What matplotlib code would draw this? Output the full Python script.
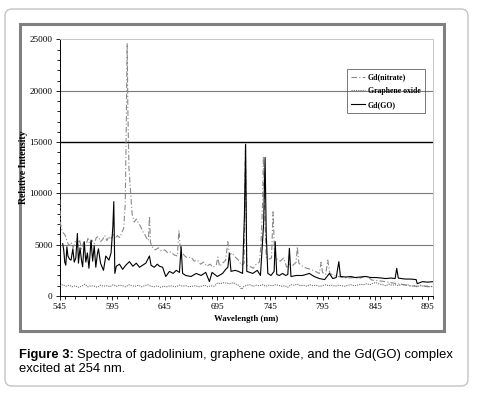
import matplotlib
matplotlib.use("Agg")
import matplotlib.pyplot as plt
import matplotlib.patches as mpatches
from matplotlib.ticker import MultipleLocator

# ---- data ----
nitrate_nm = [545, 546, 547, 548, 550, 552, 554, 556, 558, 560, 562, 564, 566, 568, 570, 572,
              574, 576, 578, 580, 582, 584, 586, 588, 590, 592, 594, 596, 598, 600, 602, 604,
              606, 607.5, 608.5, 609.3, 610, 611, 612.5, 614, 616, 618, 620, 622, 624, 626, 628,
              629.5, 630.5, 631.5, 633, 636, 639, 642, 645, 648, 651, 654, 657, 658.5, 659.5, 661,
              664, 667, 670, 673, 676, 679, 682, 685, 688, 691, 694, 695.5, 697, 700, 703, 705,
              706.5, 709, 712, 715, 718, 720.5, 721.7, 723, 726, 729, 732, 735, 736.5, 738, 738.8,
              739.8, 741.5, 744, 746.5, 748, 749.5, 752, 755, 758, 761, 764, 767, 770, 771, 772.5,
              776, 780, 784, 788, 792, 793.6, 795, 798, 800, 802, 806, 810, 815, 820, 825, 830,
              836, 842, 848, 854, 860, 866, 872, 878, 884, 890, 895, 900]
nitrate_int = [10500, 7000, 6500, 6200, 6000, 5400, 4900, 5200, 4700, 5300, 4800, 5500, 4600, 5200,
               4900, 5600, 5000, 5400, 5100, 5700, 5800, 5300, 5500, 5900, 5400, 5800, 5500, 6000,
               5600, 5900, 5700, 6100, 6600, 9000, 17000, 24600, 18000, 12500, 10200, 8000, 7200,
               7500, 7100, 6800, 6300, 6000, 5600, 5400, 7800, 5200, 4800, 4500, 4700, 4400, 4500,
               4200, 4300, 4000, 3900, 6400, 5000, 4300, 3900, 3700, 3800, 3400, 3500, 3100, 3300,
               2900, 3100, 2800, 3000, 3800, 2900, 3200, 3500, 5300, 4000, 4200, 3800, 3500, 3000,
               3200, 14700, 3000, 2900, 2700, 3100, 3300, 5000, 9000, 13600, 9000, 3800, 3600, 3700,
               8200, 3900, 3600, 3400, 3700, 2800, 3100, 3000, 3300, 4800, 3200, 2900, 2700, 2600,
               2400, 2200, 3300, 2300, 2100, 3500, 2200, 2000, 1900, 1800, 1750, 1800, 1700, 2000,
               1550, 1500, 1400, 1300, 1200, 1100, 1000, 950, 1000, 900, 950]

oxide_nm = [545, 548, 551, 554, 557, 560, 563, 566, 569, 572, 575, 578, 581, 584, 587, 590, 593,
            596, 599, 602, 605, 608, 611, 614, 617, 620, 623, 626, 629, 632, 635, 638, 641, 644,
            647, 650, 653, 656, 659, 662, 665, 668, 671, 674, 677, 680, 683, 686, 689, 692, 695,
            698, 701, 704, 707, 710, 713, 716, 718, 720, 723, 726, 729, 732, 735, 738, 741, 744,
            747, 750, 753, 756, 759, 762, 765, 768, 771, 774, 777, 780, 783, 786, 789, 792, 795,
            798, 801, 804, 807, 810, 813, 816, 819, 822, 825, 828, 831, 834, 837, 840, 843, 846,
            849, 852, 855, 858, 861, 864, 867, 870, 873, 876, 879, 882, 885, 888, 891, 894, 897, 900]
oxide_int = [1000, 1100, 950, 1050, 900, 1000, 850, 950, 1150, 900, 1000, 950, 850, 1050, 950, 1000,
             900, 1100, 950, 1050, 1000, 900, 1100, 1000, 950, 1050, 900, 1000, 1100, 950, 900,
             1000, 850, 950, 900, 1000, 950, 900, 1050, 950, 1000, 900, 950, 1000, 900, 950, 1050,
             900, 1000, 950, 1250, 1200, 1300, 1250, 1200, 1300, 1150, 1000, 650, 900, 1050, 1100,
             950, 1050, 1000, 1100, 950, 1050, 1000, 1100, 1050, 950, 1000, 850, 1100, 1050, 1150,
             1000, 1050, 950, 1100, 1000, 1050, 950, 1000, 1100, 1000, 1050, 950, 1050, 1000, 950,
             1050, 1100, 1000, 1050, 1150, 1100, 1200, 1100, 1250, 1300, 1150, 1100, 1000, 1150,
             1050, 1100, 1000, 1150, 1050, 1100, 950, 1000, 900, 1050, 950, 1000, 900, 950]

gdgo_nm = [548, 549, 550, 551, 552, 553, 554.5, 556, 557.7, 559, 560.5, 562, 563, 564.5, 566, 567,
           568.5, 570, 571.5, 573, 575, 576.5, 578, 579.5, 581, 582, 584, 586.8, 589, 592, 594,
           595.7, 596.6, 597.6, 599, 602, 605, 608, 611.5, 614.7, 618, 621, 624, 627, 630.5, 632,
           635, 638, 640, 643, 646, 649.5, 653, 656, 659, 660.6, 662, 665, 670, 675, 679.6, 684,
           687.5, 690, 695, 700, 703, 705, 706.5, 708, 712, 715, 719, 720.8, 721.9, 723, 728.7,
           733, 736, 739, 740.4, 741.5, 743, 746, 749, 750, 751.5, 754, 757, 760, 762, 763.5, 765,
           770, 776, 782.5, 787, 792, 797, 801.5, 804.7, 808, 810.5, 812, 817, 822, 826, 831, 836,
           841, 846, 851, 855, 860, 864, 865.5, 867, 870, 874, 879, 884, 885, 890, 895, 900]
gdgo_int = [5100, 4500, 3300, 3000, 4800, 3900, 3600, 3500, 4600, 3300, 3700, 6100, 3200, 4700,
            3400, 2850, 5300, 3300, 4200, 2700, 5450, 3400, 4900, 2800, 4100, 4600, 3200, 2500,
            3900, 3500, 4200, 6750, 9200, 2200, 2900, 3100, 2600, 3000, 3350, 2900, 3200, 2800,
            3000, 3200, 3900, 3000, 2800, 3100, 2900, 2800, 1900, 2400, 2200, 2500, 2300, 4800,
            2200, 2000, 1900, 2200, 2000, 2300, 1400, 2300, 1900, 2200, 2600, 2800, 4150, 2400,
            2500, 2400, 2200, 8000, 14800, 2400, 2200, 2500, 2000, 7000, 13500, 6000, 2200, 2000,
            2400, 5300, 2100, 2000, 2200, 2000, 2100, 4650, 1900, 2000, 2000, 2200, 1900, 1700,
            1600, 2200, 1700, 1800, 3350, 1900, 1850, 1900, 1800, 1850, 1900, 1800, 1800, 1750,
            1700, 1750, 1700, 2700, 1750, 1700, 1650, 1650, 1600, 1200, 1400, 1350, 1400]

x_ticks = [545, 595, 645, 695, 745, 795, 845, 895]
y_ticks = [0, 5000, 10000, 15000, 20000, 25000]

W, H = 478, 393
fig = plt.figure(figsize=(W / 100, H / 100), dpi=100)

# background layer in pixel coordinates (outer card + chart frame)
bg = fig.add_axes([0, 0, 1, 1], zorder=0)
bg.set_xlim(0, W)
bg.set_ylim(H, 0)
bg.axis("off")
card = mpatches.FancyBboxPatch((5, 9), 463, 377, boxstyle="round,pad=0,rounding_size=7",
                               facecolor="white", edgecolor="#c4c4c4", linewidth=1.0)
bg.add_patch(card)
frame = mpatches.Rectangle((20, 24), 424, 307, facecolor="white", edgecolor="#808080",
                           linewidth=2.2)
bg.add_patch(frame)

ax = fig.add_axes([59.5 / W, 1 - 296 / H, (433 - 59.5) / W, (296 - 39.5) / H], zorder=1)
ax.set_facecolor("none")

ax.plot(nitrate_nm, nitrate_int, color="#8a8a8a", lw=0.8, linestyle=(0, (5, 2, 1, 2)),
        label="Gd(nitrate)", zorder=3)
ax.plot(oxide_nm, oxide_int, color="#6e6e6e", lw=0.8, linestyle=(0, (1, 1)),
        label="Graphene oxide", zorder=3)
ax.plot(gdgo_nm, gdgo_int, color="black", lw=0.8, label="Gd(GO)", zorder=4)

ax.set_xlim(545, 900)
ax.set_ylim(0, 25000)
ax.set_xticks(x_ticks)
ax.set_yticks(y_ticks)
ax.xaxis.set_minor_locator(MultipleLocator(10))
ax.yaxis.set_minor_locator(MultipleLocator(1000))
ax.tick_params(which="both", direction="out", labelsize=6.6, pad=2, width=0.6)
ax.tick_params(which="major", length=3)
ax.tick_params(which="minor", length=2)
for lab in ax.get_xticklabels() + ax.get_yticklabels():
    lab.set_family("Liberation Serif")

for yv in y_ticks[1:-1]:
    ax.axhline(yv, color="black" if yv == 15000 else "#7a7a7a",
               lw=1.0 if yv == 15000 else 0.8, zorder=1)

ax.spines["left"].set_color("black")
ax.spines["bottom"].set_color("black")
ax.spines["left"].set_linewidth(0.7)
ax.spines["bottom"].set_linewidth(0.7)
ax.spines["top"].set_color("#c8c8c8")
ax.spines["right"].set_color("#c8c8c8")
ax.spines["top"].set_linewidth(0.7)
ax.spines["right"].set_linewidth(0.7)

ax.set_xlabel("Wavelength (nm)", family="Liberation Serif", fontweight="bold", fontsize=6.3,
              labelpad=3)
ax.set_ylabel("Relative Intensity", family="Liberation Serif", fontweight="bold", fontsize=7,
              labelpad=1)

leg = ax.legend(loc="upper left", bbox_to_anchor=(0.77, 0.885), fancybox=False,
                prop={"family": "Liberation Serif", "weight": "bold", "size": 5.6},
                handlelength=1.7, handletextpad=0.4, borderpad=0.55, labelspacing=0.75,
                borderaxespad=0)
leg.get_frame().set_facecolor("none")
leg.get_frame().set_edgecolor("#555555")
leg.get_frame().set_linewidth(0.7)

# caption under the chart frame
cap_font = {"family": "Liberation Sans", "size": 9.4}
t1 = fig.text(19 / W, 1 - 358 / H, "Figure 3:", fontweight="bold", va="baseline", **cap_font)
fig.canvas.draw()
bb = t1.get_window_extent(renderer=fig.canvas.get_renderer())
fig.text(bb.x1 / W + 3 / W, 1 - 358 / H,
         "Spectra of gadolinium, graphene oxide, and the Gd(GO) complex",
         va="baseline", **cap_font)
fig.text(19 / W, 1 - 372 / H, "excited at 254 nm.", va="baseline", **cap_font)

fig.savefig("out.png", dpi=100)
